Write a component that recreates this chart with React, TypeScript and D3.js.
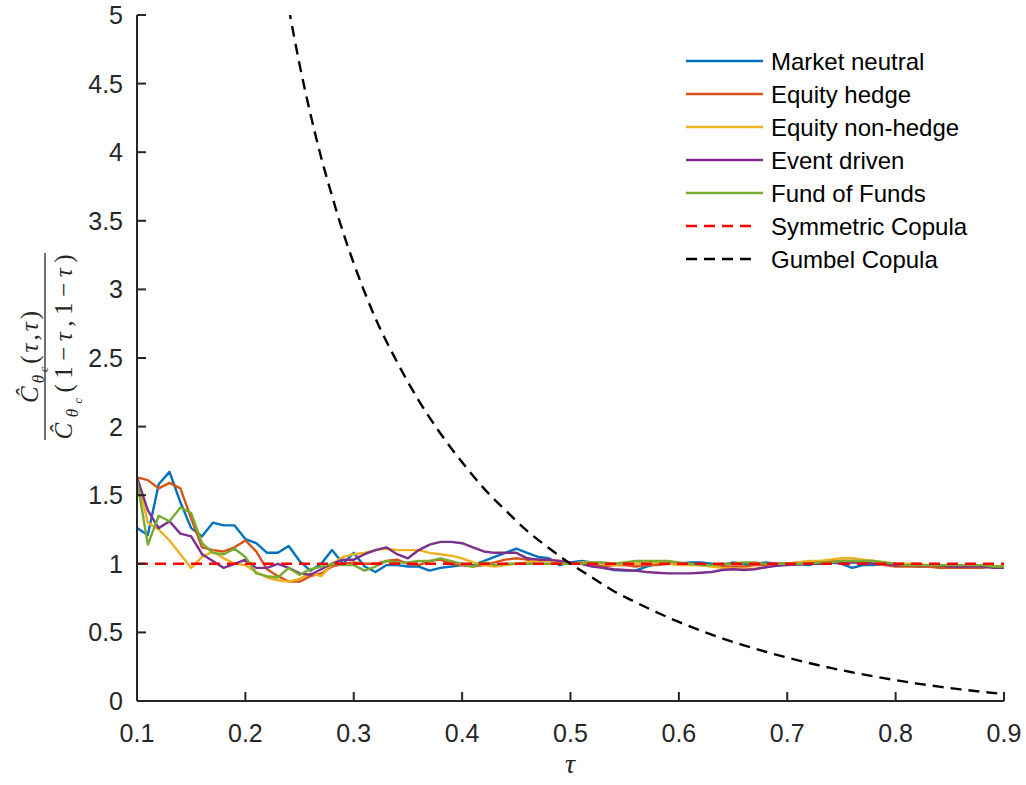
import React from 'react';
import * as d3 from 'd3';

// tau grid 0.10 .. 0.90 step 0.01
const TAU_GRID = d3.range(10, 91).map((k) => k / 100);

const MARKET_NEUTRAL = [
  1.26, 1.21, 1.58, 1.67, 1.45, 1.26, 1.20, 1.30, 1.28, 1.28,
  1.18, 1.15, 1.08, 1.08, 1.13, 1.02, 0.95, 1.00, 1.10, 1.00,
  1.08, 0.98, 0.94, 0.99, 0.99, 0.98, 0.98, 0.95, 0.97, 0.98,
  0.99, 0.99, 1.02, 1.05, 1.08, 1.11, 1.08, 1.05, 1.04, 0.99,
  1.01, 1.02, 1.01, 0.97, 0.955, 0.95, 0.95, 0.98, 1.00, 1.01,
  1.00, 1.01, 1.01, 1.00, 0.99, 1.01, 1.00, 1.00, 1.01, 1.00,
  1.00, 1.00, 0.99, 1.01, 1.01, 1.00, 0.97, 0.99, 0.99, 1.00,
  0.99, 0.99, 0.98, 0.98, 0.98, 0.98, 0.98, 0.98, 0.98, 0.98,
  0.97,
];

const EQUITY_HEDGE = [
  1.63, 1.61, 1.55, 1.59, 1.55, 1.33, 1.12, 1.10, 1.09, 1.12,
  1.17, 1.09, 0.96, 0.91, 0.87, 0.87, 0.91, 0.93, 0.98, 1.00,
  1.01, 1.00, 1.00, 1.02, 1.03, 1.00, 0.99, 1.02, 1.03, 1.00,
  0.99, 0.98, 0.99, 1.01, 1.03, 1.04, 1.03, 1.03, 1.02, 1.02,
  1.00, 1.00, 0.99, 0.98, 0.99, 0.99, 0.98, 0.99, 0.99, 1.00,
  1.00, 1.00, 0.99, 0.99, 0.98, 0.98, 0.98, 0.99, 0.99, 1.00,
  1.00, 1.01, 1.01, 1.01, 1.02, 1.02, 1.02, 1.01, 1.00, 0.99,
  0.98, 0.98, 0.98, 0.98, 0.97, 0.97, 0.97, 0.97, 0.97, 0.98,
  0.98,
];

const EQUITY_NON_HEDGE = [
  1.63, 1.30, 1.25, 1.17, 1.07, 0.97, 1.05, 1.09, 1.04, 1.00,
  0.99, 0.94, 0.90, 0.88, 0.87, 0.89, 0.93, 0.91, 1.00, 1.05,
  1.07, 1.08, 1.10, 1.11, 1.10, 1.10, 1.10, 1.08, 1.07, 1.06,
  1.04, 1.01, 0.99, 0.98, 0.99, 1.00, 1.01, 1.02, 1.02, 1.01,
  1.00, 1.01, 1.01, 1.00, 0.99, 1.00, 1.00, 1.01, 1.01, 1.00,
  0.99, 0.99, 0.99, 0.98, 0.97, 0.965, 0.965, 0.965, 0.975, 0.99,
  1.00, 1.01, 1.02, 1.02, 1.03, 1.04, 1.04, 1.03, 1.02, 1.01,
  1.00, 1.00, 1.00, 0.99, 0.99, 0.99, 0.99, 0.98, 0.98, 0.98,
  0.98,
];

const EVENT_DRIVEN = [
  1.63, 1.39, 1.26, 1.31, 1.22, 1.20, 1.07, 1.02, 0.97, 1.00,
  1.03, 0.97, 0.97, 1.00, 0.97, 0.93, 0.92, 0.96, 1.00, 1.03,
  1.03, 1.07, 1.10, 1.12, 1.07, 1.04, 1.10, 1.14, 1.16, 1.16,
  1.15, 1.12, 1.09, 1.08, 1.08, 1.08, 1.04, 1.03, 1.03, 1.02,
  1.01, 1.00, 0.98, 0.97, 0.96, 0.955, 0.95, 0.94, 0.935, 0.93,
  0.93, 0.93, 0.935, 0.94, 0.955, 0.96, 0.955, 0.96, 0.975, 0.985,
  0.99, 0.995, 1.00, 1.00, 1.01, 1.01, 1.01, 1.01, 1.00, 1.00,
  0.99, 0.99, 0.99, 0.99, 0.99, 0.98, 0.98, 0.98, 0.98, 0.97,
  0.97,
];

const FUND_OF_FUNDS = [
  1.61, 1.14, 1.35, 1.31, 1.41, 1.37, 1.15, 1.08, 1.07, 1.11,
  1.05, 0.93, 0.91, 0.90, 0.97, 0.92, 0.96, 0.98, 1.00, 0.99,
  0.99, 0.95, 0.98, 1.02, 1.01, 1.01, 1.02, 1.02, 1.04, 1.02,
  1.00, 0.98, 1.01, 0.99, 1.00, 1.00, 1.00, 1.00, 1.00, 1.00,
  1.00, 1.00, 1.01, 1.01, 1.00, 1.01, 1.02, 1.02, 1.02, 1.02,
  1.01, 1.00, 0.99, 0.99, 1.00, 1.00, 1.01, 1.01, 1.00, 1.00,
  1.00, 1.00, 1.00, 1.01, 1.01, 1.02, 1.02, 1.02, 1.02, 1.01,
  1.00, 0.99, 0.99, 0.99, 0.99, 0.99, 0.99, 0.99, 0.99, 0.98,
  0.98,
];

const GUMBEL_TAU = [
  0.24, 0.25, 0.26, 0.27, 0.28, 0.29, 0.30, 0.32, 0.34, 0.36, 0.38, 0.40,
  0.42, 0.44, 0.46, 0.48, 0.50, 0.52, 0.54, 0.56, 0.58, 0.60, 0.62, 0.64,
  0.66, 0.68, 0.70, 0.72, 0.74, 0.76, 0.78, 0.80, 0.82, 0.84, 0.86, 0.88, 0.90,
];
const GUMBEL_VAL = [
  5.05, 4.64, 4.28, 3.96, 3.68, 3.42, 3.19, 2.79, 2.47, 2.19, 1.95, 1.74,
  1.55, 1.39, 1.24, 1.115, 1.0, 0.9, 0.8, 0.72, 0.645, 0.576, 0.514, 0.457,
  0.406, 0.359, 0.316, 0.277, 0.241, 0.209, 0.179, 0.152, 0.127, 0.105, 0.085, 0.067, 0.05,
];

const SYMMETRIC_LEVEL = 1;

const X_TICKS = [0.1, 0.2, 0.3, 0.4, 0.5, 0.6, 0.7, 0.8, 0.9];
const Y_TICKS = [0, 0.5, 1, 1.5, 2, 2.5, 3, 3.5, 4, 4.5, 5];

const SERIES = [
  { name: 'Market neutral', color: '#0072BD', values: MARKET_NEUTRAL },
  { name: 'Equity hedge', color: '#D95319', values: EQUITY_HEDGE },
  { name: 'Equity non-hedge', color: '#EDB120', values: EQUITY_NON_HEDGE },
  { name: 'Event driven', color: '#7E2F8E', values: EVENT_DRIVEN },
  { name: 'Fund of Funds', color: '#77AC30', values: FUND_OF_FUNDS },
];

export default function App() {
  const W = 1026;
  const H = 785;
  const left = 137, right = 1004, top = 15, bottom = 701;
  const x = d3.scaleLinear().domain([0.1, 0.9]).range([left, right]);
  const y = d3.scaleLinear().domain([0, 5]).range([bottom, top]);

  const line = d3
    .line<[number, number]>()
    .x((d) => x(d[0]))
    .y((d) => y(d[1]));
  const smooth = d3
    .line<[number, number]>()
    .x((d) => x(d[0]))
    .y((d) => y(d[1]))
    .curve(d3.curveMonotoneX);

  const axisColor = '#262626';
  const sans = '"Liberation Sans", Arial, Helvetica, sans-serif';
  const serif = '"Liberation Serif", "Times New Roman", serif';

  const legendEntries = [
    ...SERIES.map((s) => ({ name: s.name, color: s.color, dash: undefined as string | undefined })),
    { name: 'Symmetric Copula', color: '#FF0000', dash: '11,7' },
    { name: 'Gumbel Copula', color: '#000000', dash: '11,7' },
  ];

  return (
    <svg
      width={W}
      height={H}
      viewBox={`0 0 ${W} ${H}`}
      style={{ position: 'absolute', left: 0, top: 0, background: '#fff' }}
    >
      <defs>
        <clipPath id="plotclip">
          <rect x={left} y={top} width={right - left} height={bottom - top} />
        </clipPath>
      </defs>
      <rect x={0} y={0} width={W} height={H} fill="#fff" />

      <g clipPath="url(#plotclip)">
        {SERIES.map((s) => (
          <path
            key={s.name}
            d={line(TAU_GRID.map((t, i) => [t, s.values[i]] as [number, number])) || ''}
            fill="none"
            stroke={s.color}
            strokeWidth={2.4}
            strokeLinejoin="round"
          />
        ))}
        <path
          d={line([[0.1, SYMMETRIC_LEVEL], [0.9, SYMMETRIC_LEVEL]]) || ''}
          fill="none"
          stroke="#FF0000"
          strokeWidth={2.4}
          strokeDasharray="11,7"
        />
        <path
          d={smooth(GUMBEL_TAU.map((t, i) => [t, GUMBEL_VAL[i]] as [number, number])) || ''}
          fill="none"
          stroke="#000"
          strokeWidth={2.4}
          strokeDasharray="11,7"
        />
      </g>

      {/* axes */}
      <line x1={left} y1={bottom} x2={right} y2={bottom} stroke={axisColor} strokeWidth={2} />
      <line x1={left} y1={bottom} x2={left} y2={top} stroke={axisColor} strokeWidth={2} />
      {X_TICKS.map((t) => (
        <g key={'x' + t}>
          <line x1={x(t)} x2={x(t)} y1={bottom} y2={bottom - 9} stroke={axisColor} strokeWidth={2} />
          <text
            x={x(t)}
            y={bottom + 41}
            textAnchor="middle"
            fontFamily={sans}
            fontSize={25}
            fill={axisColor}
          >
            {t.toString()}
          </text>
        </g>
      ))}
      {Y_TICKS.map((t) => (
        <g key={'y' + t}>
          <line x1={left} x2={left + 9} y1={y(t)} y2={y(t)} stroke={axisColor} strokeWidth={2} />
          <text
            x={left - 14}
            y={y(t) + 9}
            textAnchor="end"
            fontFamily={sans}
            fontSize={25}
            fill={axisColor}
          >
            {t.toString()}
          </text>
        </g>
      ))}

      {/* x label */}
      <text x={570} y={773} textAnchor="middle" fontFamily={serif} fontStyle="italic" fontSize={28} fill={axisColor}>
        τ
      </text>

      {/* y label: fraction, rotated */}
      <g transform="translate(45,347) rotate(-90)" fill={axisColor} fontFamily={serif}>
        <text x={-10} y={-7} textAnchor="middle" fontSize={25} textLength={92} lengthAdjust="spacing">
          <tspan fontStyle="italic">Ĉ</tspan>
          <tspan fontStyle="italic" fontSize={17} dy={6}>θ</tspan>
          <tspan fontStyle="italic" fontSize={12} dy={4}>c</tspan>
          <tspan dy={-10}>(</tspan>
          <tspan fontStyle="italic">τ</tspan>
          <tspan>,</tspan>
          <tspan fontStyle="italic">τ</tspan>
          <tspan>)</tspan>
        </text>
        <line x1={-93} x2={94} y1={0} y2={0} stroke={axisColor} strokeWidth={1.3} />
        <text x={0} y={27} textAnchor="middle" fontSize={25} textLength={185} lengthAdjust="spacing">
          <tspan fontStyle="italic">Ĉ</tspan>
          <tspan fontStyle="italic" fontSize={17} dy={6}>θ</tspan>
          <tspan fontStyle="italic" fontSize={12} dy={4}>c</tspan>
          <tspan dy={-10}>(1−</tspan>
          <tspan fontStyle="italic">τ</tspan>
          <tspan>,1−</tspan>
          <tspan fontStyle="italic">τ</tspan>
          <tspan>)</tspan>
        </text>
      </g>

      {/* legend */}
      {legendEntries.map((e, i) => {
        const ly = 61 + i * 33;
        return (
          <g key={e.name}>
            <line
              x1={686}
              x2={e.dash ? 756 : 763}
              y1={ly}
              y2={ly}
              stroke={e.color}
              strokeWidth={2.4}
              strokeDasharray={e.dash}
            />
            <text x={771} y={ly + 8.5} fontFamily={sans} fontSize={24} fill="#000">
              {e.name}
            </text>
          </g>
        );
      })}
    </svg>
  );
}
